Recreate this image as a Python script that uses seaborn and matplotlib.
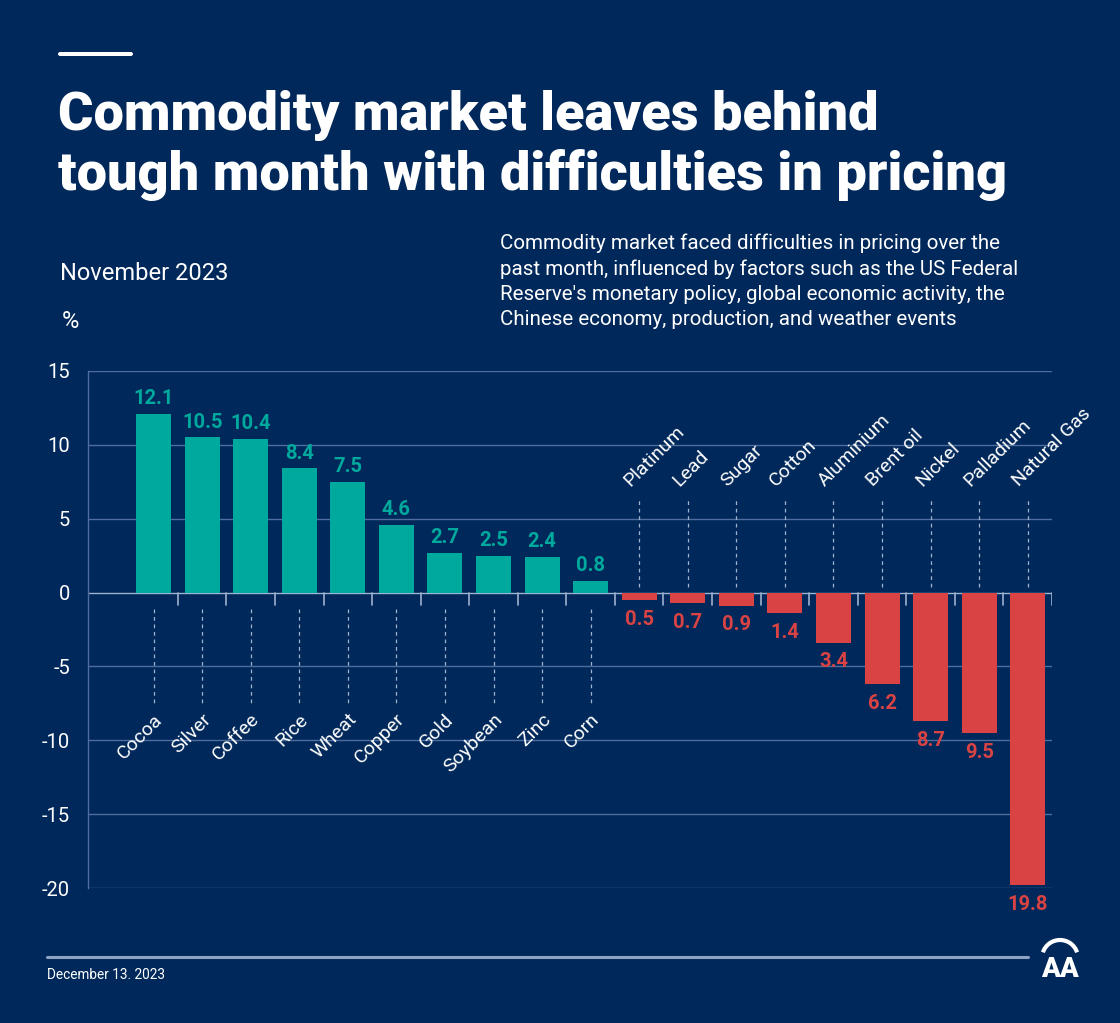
import matplotlib
matplotlib.use('Agg')
import matplotlib.pyplot as plt
import matplotlib.patches as mpatches
import seaborn as sns
import pandas as pd


# chart data
commodities = ['Cocoa', 'Silver', 'Coffee', 'Rice', 'Wheat', 'Copper', 'Gold',
               'Soybean', 'Zinc', 'Corn', 'Platinum', 'Lead', 'Sugar', 'Cotton',
               'Aluminium', 'Brent oil', 'Nickel', 'Palladium', 'Natural Gas']
changes = [12.1, 10.5, 10.4, 8.4, 7.5, 4.6, 2.7, 2.5, 2.4, 0.8,
           -0.5, -0.7, -0.9, -1.4, -3.4, -6.2, -8.7, -9.5, -19.8]
y_ticks = [15, 10, 5, 0, -5, -10, -15, -20]

# colours
bg = '#00285a'
teal = '#00a99d'
red = '#d94343'
grid_col = '#4f6d9e'
zero_col = '#9fb2cf'
dash_col = '#9fb2cf'

df = pd.DataFrame({'commodity': commodities, 'change': changes})
df['sign'] = ['up' if v >= 0 else 'down' for v in df['change']]

sns.set_theme(style='white')
plt.rcParams['font.family'] = ['Roboto', 'DejaVu Sans']

fig = plt.figure(figsize=(11.2, 10.23), dpi=100)
fig.patch.set_facecolor(bg)

# header
fig.patches.append(mpatches.FancyBboxPatch((58 / 1120, 1 - 56 / 1023), 75 / 1120, 4 / 1023,
                                           boxstyle='round,pad=0,rounding_size=0.002',
                                           transform=fig.transFigure, facecolor='white',
                                           edgecolor='none'))
fig.text(58 / 1120, 1 - 130 / 1023, 'Commodity market leaves behind',
         color='white', fontsize=39, fontweight='heavy')
fig.text(58 / 1120, 1 - 190 / 1023, 'tough month with difficulties in pricing',
         color='white', fontsize=39, fontweight='heavy')
fig.text(500 / 1120, 1 - 325 / 1023,
         "Commodity market faced difficulties in pricing over the\n"
         "past month, influenced by factors such as the US Federal\n"
         "Reserve's monetary policy, global economic activity, the\n"
         "Chinese economy, production, and weather events",
         color='white', fontsize=14.8, linespacing=1.4)
fig.text(60 / 1120, 1 - 280 / 1023, 'November 2023', color='white', fontsize=17)
fig.text(62 / 1120, 1 - 328 / 1023, '%', color='white', fontsize=17)

# chart
ax = fig.add_axes([88 / 1120, 1 - 888 / 1023, 964 / 1120, 517 / 1023])
ax.set_facecolor(bg)
sns.barplot(data=df, x='commodity', y='change', hue='sign',
            palette={'up': teal, 'down': red}, dodge=False, width=0.72,
            legend=False, saturation=1, linewidth=0, edgecolor='none', ax=ax)

ax.set_xlim(-1.35, 18.5)
ax.set_ylim(-20, 15)
ax.set_yticks(y_ticks)
ax.set_yticklabels([str(t) for t in y_ticks], color='white', fontsize=14.5)
ax.tick_params(axis='y', length=0, pad=13)
ax.set_xticks([])
ax.set_xlabel('')
ax.set_ylabel('')
for t in y_ticks:
    ax.axhline(t, color=zero_col if t == 0 else grid_col, lw=1, zorder=0.5 if t == 0 else 0)
for s in ['top', 'right', 'bottom']:
    ax.spines[s].set_visible(False)
ax.spines['left'].set_color(grid_col)
ax.spines['left'].set_linewidth(1)

# separator ticks below zero line
for i in range(len(commodities)):
    ax.plot([i + 0.5, i + 0.5], [0, -0.85], color=zero_col, lw=1.2, zorder=1)

# value labels, dashed leaders and category names
for i, (name, v) in enumerate(zip(commodities, changes)):
    if v >= 0:
        ax.text(i, v + 0.4, f'{v:.1f}', ha='center', va='bottom', color=teal,
                fontsize=14.5, fontweight='bold')
        ax.plot([i, i], [-1.1, -7.6], color=dash_col, lw=0.9, ls=(0, (3, 3)))
        ax.text(i + 0.12, -8.4, name, rotation=45, rotation_mode='anchor',
                ha='right', va='center', color='white', fontsize=14)
    else:
        ax.text(i, v - 0.65, f'{abs(v):.1f}', ha='center', va='top', color=red,
                fontsize=14.5, fontweight='bold')
        ax.plot([i, i], [0.35, 6.3], color=dash_col, lw=0.9, ls=(0, (3, 3)))
        ax.text(i - 0.25, 7.4, name, rotation=45, rotation_mode='anchor',
                ha='left', va='center', color='white', fontsize=14)

# footer
fig.add_artist(plt.Line2D([47 / 1120, 1028 / 1120], [1 - 957 / 1023, 1 - 957 / 1023],
                          color='#8ea3c4', lw=2.2, transform=fig.transFigure))
fig.text(47 / 1120, 1 - 979 / 1023, 'December 13. 2023', color='white', fontsize=9.8)
fig.text(1060 / 1120, 1 - 977 / 1023, 'AA', color='white', fontsize=20,
         fontweight='heavy', ha='center', va='baseline')
fig.patches.append(mpatches.Arc((1060 / 1120, 1 - 958 / 1023), 36 / 1120, 36 / 1023,
                                theta1=20, theta2=160, lw=3, color='white',
                                transform=fig.transFigure))

fig.savefig('out.png', dpi=100, facecolor=bg)
